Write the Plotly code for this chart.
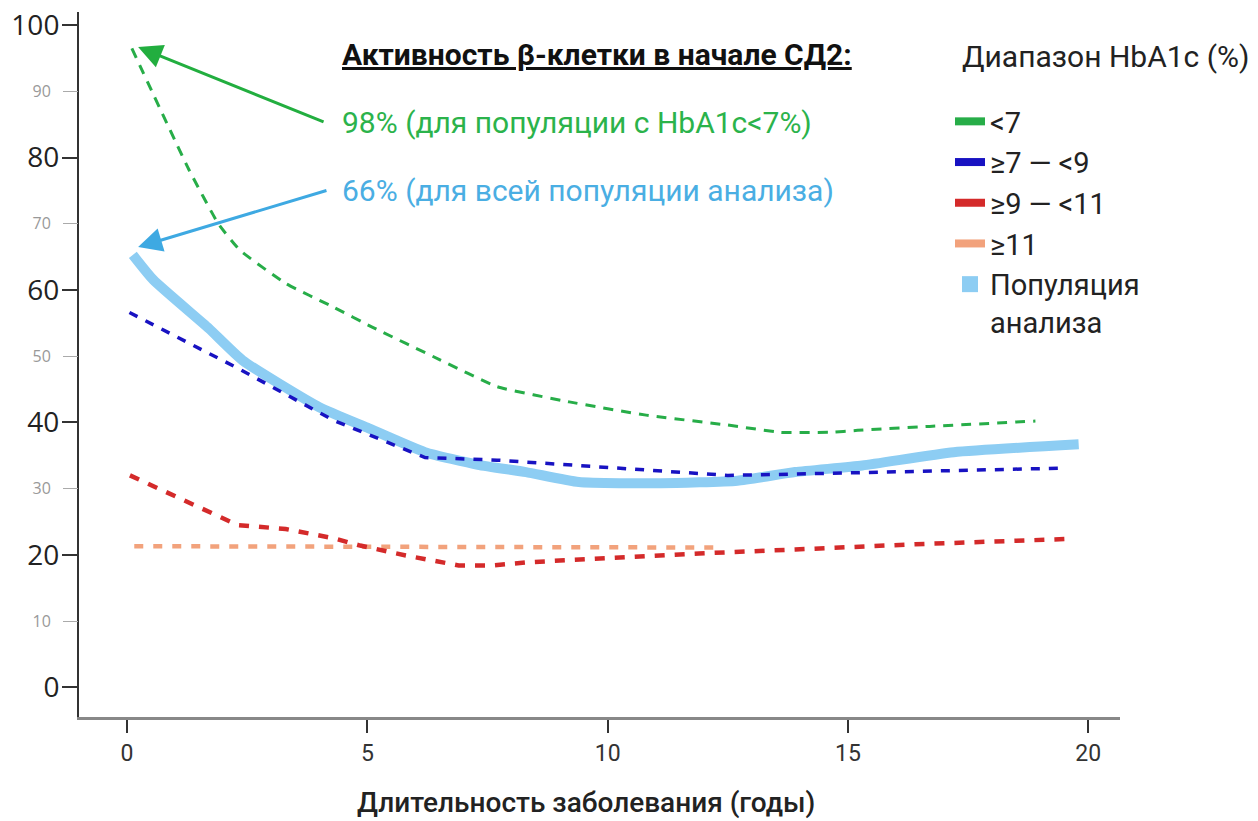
import plotly.graph_objects as go

# ---- data ----
x_lt7 = [0.1, 1.3, 1.9, 2.35, 3.3, 4.3, 5.1, 6.5, 7.7, 9.2, 10.8, 12.5, 13.6, 14.6, 15.2, 16.7, 18.9]
y_lt7 = [96.5, 78.0, 70.0, 66.0, 61.0, 57.4, 54.4, 49.5, 45.4, 43.1, 41.1, 39.6, 38.5, 38.5, 38.8, 39.4, 40.2]

x_7_9 = [0.05, 2.3, 4.3, 6.2, 7.7, 9.4, 11.6, 12.5, 13.9, 15.7, 17.7, 19.5]
y_7_9 = [56.6, 48.2, 40.3, 34.7, 34.3, 33.5, 32.5, 32.0, 32.2, 32.5, 32.9, 33.1]

x_9_11 = [0.06, 2.3, 3.3, 4.3, 4.85, 5.8, 6.9, 7.6, 8.4, 10.1, 11.9, 13.9, 16.4, 19.6]
y_9_11 = [32.0, 24.5, 23.9, 22.5, 21.4, 19.9, 18.4, 18.4, 18.9, 19.6, 20.2, 20.8, 21.6, 22.4]

x_ge11 = [0.15, 6.0, 12.2]
y_ge11 = [21.3, 21.2, 21.1]

x_pop = [0.12, 0.55, 1.7, 2.4, 4.0, 5.0, 6.2, 7.3, 8.3, 9.4, 11.1, 12.7, 13.9, 15.3, 17.2, 19.8]
y_pop = [65.3, 61.5, 54.2, 49.4, 42.3, 39.2, 35.5, 33.6, 32.5, 31.0, 30.8, 31.2, 32.5, 33.5, 35.5, 36.7]

legend_labels = ["<7", "≥7 — <9", "≥9 — <11", "≥11", "Популяция<br>анализа"]
x_ticks = [0, 5, 10, 15, 20]
y_major = [0, 20, 40, 60, 80, 100]
y_minor = [10, 30, 50, 70, 90]

green_val = 96.7   # head of the green arrow (start of <7 curve)
pop_val = 66.5     # head of the blue arrow (start of population curve)

C_GREEN = "#27ad48"
C_BLUE = "#1812c2"
C_RED = "#d42a2a"
C_ORANGE = "#f2a27c"
C_POP = "#8dcdf3"
C_TXT_GREEN = "#2bb34b"
C_TXT_BLUE = "#4aaee3"

FONT = "Roboto"
TXT = 30

fig = go.Figure()

# main curves (not in legend)
fig.add_trace(go.Scatter(x=x_pop, y=y_pop, mode="lines", showlegend=False,
                         line=dict(color=C_POP, width=10, shape="spline", smoothing=0.5)))
fig.add_trace(go.Scatter(x=x_lt7, y=y_lt7, mode="lines", showlegend=False,
                         line=dict(color=C_GREEN, width=3, dash="10px,8px", shape="spline", smoothing=0.4)))
fig.add_trace(go.Scatter(x=x_7_9, y=y_7_9, mode="lines", showlegend=False,
                         line=dict(color=C_BLUE, width=3.5, dash="9px,9px")))
fig.add_trace(go.Scatter(x=x_ge11, y=y_ge11, mode="lines", showlegend=False,
                         line=dict(color=C_ORANGE, width=4.5, dash="9px,10px")))
fig.add_trace(go.Scatter(x=x_9_11, y=y_9_11, mode="lines", showlegend=False,
                         line=dict(color=C_RED, width=4.5, dash="10px,10px")))

# legend entries (solid thick symbols like the reference)
for i, (lab, col) in enumerate(zip(legend_labels[:4], [C_GREEN, C_BLUE, C_RED, C_ORANGE])):
    fig.add_trace(go.Scatter(x=[None], y=[None], mode="lines", name=lab,
                             legendgroup=f"g{i}",
                             line=dict(color=col, width=8)))
fig.add_trace(go.Scatter(x=[None], y=[None], mode="markers", name=legend_labels[4],
                         legendgroup="g4",
                         marker=dict(color=C_POP, symbol="square", size=18)))

# dummy trace for the minor-label axis
fig.add_trace(go.Scatter(x=[None], y=[None], yaxis="y2", showlegend=False, hoverinfo="skip"))

# arrows
fig.add_annotation(x=0.23, y=green_val, ax=4.12, ay=85.3, xref="x", yref="y", axref="x", ayref="y",
                   text="", showarrow=True, arrowhead=2, arrowsize=1.6, arrowwidth=3, arrowcolor="#22ae3f")
fig.add_annotation(x=0.23, y=pop_val, ax=4.18, ay=75.1, xref="x", yref="y", axref="x", ayref="y",
                   text="", showarrow=True, arrowhead=2, arrowsize=1.6, arrowwidth=3, arrowcolor="#3ea9e2")

# texts
fig.add_annotation(x=4.43, y=95.6, xref="x", yref="y", xanchor="left", yanchor="middle", showarrow=False,
                   text="<u><b>Активность β-клетки в начале СД2:</b></u>",
                   font=dict(family=FONT, size=TXT, color="#111"))
fig.add_annotation(x=4.43, y=85.3, xref="x", yref="y", xanchor="left", yanchor="middle", showarrow=False,
                   text="98% (для популяции с HbA1c<7%)",
                   font=dict(family=FONT, size=TXT, color=C_TXT_GREEN))
fig.add_annotation(x=4.43, y=75.1, xref="x", yref="y", xanchor="left", yanchor="middle", showarrow=False,
                   text="66% (для всей популяции анализа)",
                   font=dict(family=FONT, size=TXT, color=C_TXT_BLUE))
# legend title
fig.add_annotation(x=(960 - 79) / 1041, y=(717 - 57) / 705, xref="paper", yref="paper",
                   xanchor="left", yanchor="middle",
                   showarrow=False, text="Диапазон HbA1c (%)",
                   font=dict(family=FONT, size=TXT, color="#222"))
# x-axis title
fig.add_annotation(x=(586 - 79) / 1041, y=(717 - 802) / 705, xref="paper", yref="paper",
                   xanchor="center", yanchor="middle", showarrow=False,
                   text="Длительность заболевания (годы)",
                   font=dict(family=FONT, size=28, color="#222", weight=500))

fig.update_layout(
    width=1258, height=821,
    margin=dict(l=79, r=138, t=12, b=104, autoexpand=False),
    plot_bgcolor="white", paper_bgcolor="white",
    font=dict(family=FONT, color="#222"),
    showlegend=True,
    legend=dict(x=(950 - 79) / 1041, y=(717 - 96) / 705, xanchor="left", yanchor="top",
                font=dict(family=FONT, size=29, color="#222"),
                traceorder="grouped", tracegroupgap=0, valign="top",
                bgcolor="rgba(0,0,0,0)"),
    xaxis=dict(range=[-1.0, 20.66], tickvals=x_ticks, ticks="outside", ticklen=13, tickwidth=1.5,
               tickcolor="#333", showline=True, linecolor="#888", linewidth=3, showgrid=False, zeroline=False,
               tickfont=dict(family=FONT, size=23, color="#333"), ticklabelstandoff=0,
               automargin=False),
    yaxis=dict(range=[-4.5, 102], tickvals=y_major, ticks="outside", ticklen=15, tickwidth=1.5,
               tickcolor="#333", showline=True, linecolor="#333", linewidth=2, showgrid=False, zeroline=False,
               tickfont=dict(family="Open Sans", size=28, color="#222"), ticklabelstandoff=-3,
               ticklabeloverflow="allow", automargin=False),
    yaxis2=dict(range=[-4.5, 102], overlaying="y", side="left", tickvals=y_minor, ticks="outside",
                ticklen=15, tickwidth=1, tickcolor="#aaa", showline=False, showgrid=False, zeroline=False,
                tickfont=dict(family="Open Sans", size=16, color="#999"), ticklabelstandoff=9,
                automargin=False),
)

fig.write_html("out.html", config={"displayModeBar": False},
               post_script="document.body.style.margin='0';")
